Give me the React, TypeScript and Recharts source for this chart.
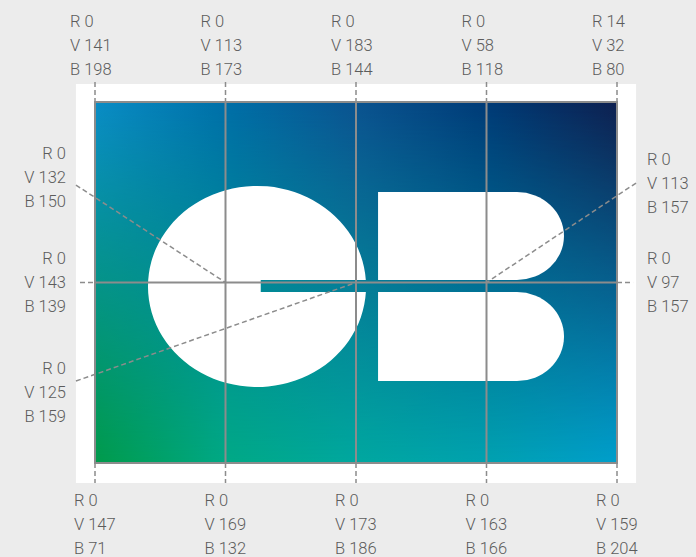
import React from 'react';
import {
  ComposedChart,
  XAxis,
  YAxis,
  Scatter,
  ReferenceArea,
  ReferenceLine,
} from 'recharts';

// grid columns (x) and rows (y) of the colour swatch panel
const columns = [0, 1, 2, 3, 4];

// top edge readings
const topR = [0, 0, 0, 0, 14];
const topV = [141, 113, 183, 58, 32];
const topB = [198, 173, 144, 118, 80];

// bottom edge readings
const bottomR = [0, 0, 0, 0, 0];
const bottomV = [147, 169, 173, 163, 159];
const bottomB = [71, 132, 186, 166, 204];

// left side readings
const leftRows = [0.42, 1, 1.607];
const leftR = [0, 0, 0];
const leftV = [132, 143, 125];
const leftB = [150, 139, 159];

// right side readings
const rightRows = [0.449, 1];
const rightR = [0, 0];
const rightV = [113, 97];
const rightB = [157, 157];

// colours along the top and bottom rows
const topColors = ['#0a8dc6', '#006fa8', '#0b5390', '#003b77', '#0e2050'];
const bottomColors = ['#009a4a', '#00a985', '#00a89f', '#00a2b0', '#009fcc'];

const GREY = '#8c8c8c';
const TEXT = '#5c5c5c';
const FONT = 'Roboto, "Liberation Sans", Arial, sans-serif';

const topData = columns.map((c, i) => ({ x: c, y: 0, r: topR[i], v: topV[i], b: topB[i] }));
const bottomData = columns.map((c, i) => ({ x: c, y: 2, r: bottomR[i], v: bottomV[i], b: bottomB[i] }));
const leftData = leftRows.map((y, i) => ({ x: 0, y, r: leftR[i], v: leftV[i], b: leftB[i] }));
const rightData = rightRows.map((y, i) => ({ x: 4, y, r: rightR[i], v: rightV[i], b: rightB[i] }));

// R / V / B stacked text, placed at the scatter point
const stack = (anchor: 'start' | 'end', dx: number, dy: number) => (props: any) => {
  const { cx, cy, payload } = props;
  const lines = [`R ${payload.r}`, `V ${payload.v}`, `B ${payload.b}`];
  return (
    <g>
      {lines.map((t, i) => (
        <text
          key={i}
          x={cx + dx}
          y={cy + dy + (i - 1) * 24}
          textAnchor={anchor}
          dominantBaseline="central"
          fontSize={16.5}
          fontWeight={300}
          fontFamily={FONT}
          fill={TEXT}
        >
          {t}
        </text>
      ))}
    </g>
  );
};

// gradient panel: top row blended into bottom row
const Panel = (props: any) => {
  const { x, y, width, height } = props;
  return (
    <g>
      <defs>
        <linearGradient id="rowTop" x1="0" y1="0" x2="1" y2="0">
          {topColors.map((c, i) => (
            <stop key={i} offset={i / (topColors.length - 1)} stopColor={c} />
          ))}
        </linearGradient>
        <linearGradient id="rowBottom" x1="0" y1="0" x2="1" y2="0">
          {bottomColors.map((c, i) => (
            <stop key={i} offset={i / (bottomColors.length - 1)} stopColor={c} />
          ))}
        </linearGradient>
        <linearGradient id="fadeDown" x1="0" y1="0" x2="0" y2="1">
          <stop offset="0" stopColor="#fff" stopOpacity={0} />
          <stop offset="1" stopColor="#fff" stopOpacity={1} />
        </linearGradient>
        <mask id="fadeMask" maskContentUnits="objectBoundingBox">
          <rect x={0} y={0} width={1} height={1} fill="url(#fadeDown)" />
        </mask>
      </defs>
      <rect x={x} y={y} width={width} height={height} fill="url(#rowTop)" />
      <rect x={x} y={y} width={width} height={height} fill="url(#rowBottom)" mask="url(#fadeMask)" />
      <rect x={x} y={y} width={width} height={height} fill="none" stroke={GREY} strokeWidth={2} />
    </g>
  );
};

// the "C": ellipse box and the slit cut into it
const C_BOX = { x1: 0.406, x2: 2.077, y1: 0.465, y2: 1.579 };
const C_SLIT = { left: 1.27, top: 0.986, bottom: 1.053 };

const LetterC = (props: any) => {
  const { x, y, width, height } = props;
  const sx = (u: number) => x + ((u - C_BOX.x1) / (C_BOX.x2 - C_BOX.x1)) * width;
  const sy = (v: number) => y + ((v - C_BOX.y1) / (C_BOX.y2 - C_BOX.y1)) * height;
  const cx = x + width / 2;
  const cy = y + height / 2;
  const rx = width / 2;
  const ry = height / 2;
  const ty = sy(C_SLIT.top);
  const by = sy(C_SLIT.bottom);
  const xr = (yy: number) => cx + rx * Math.sqrt(1 - ((yy - cy) / ry) ** 2);
  const lx = sx(C_SLIT.left);
  const d = `M${xr(ty)},${ty} A${rx},${ry} 0 1 0 ${xr(by)},${by} L${lx},${by} L${lx},${ty} Z`;
  return <path d={d} fill="#fff" />;
};

// the "B": two half-rounded blocks
const B_LEFT = 2.169;
const B_RIGHT = 3.594;
const B_ROUND = 0.36;

const BlockB = (props: any) => {
  const { x, y, width, height } = props;
  const r = (B_ROUND / (B_RIGHT - B_LEFT)) * width;
  const d = `M${x},${y} H${x + width - r} A${r},${height / 2} 0 0 1 ${x + width - r},${y + height} H${x} Z`;
  return <path d={d} fill="#fff" />;
};

const dashed = { stroke: GREY, strokeWidth: 1.5, strokeDasharray: '5 3' };

export default function App() {
  return (
    <div style={{ position: 'absolute', left: 0, top: 0, width: 696, height: 557, background: '#ececec' }}>
      <ComposedChart
        width={696}
        height={557}
        data={topData}
        margin={{ top: 102, right: 79, bottom: 94, left: 95 }}
      >
        <XAxis type="number" dataKey="x" domain={[0, 4]} hide />
        <YAxis type="number" dataKey="y" domain={[0, 2]} reversed hide />

        {/* white frame */}
        <ReferenceArea x1={-0.146} x2={4.146} y1={-0.1} y2={2.111} ifOverflow="visible" fill="#fff" fillOpacity={1} stroke="none" />

        <ReferenceArea x1={0} x2={4} y1={0} y2={2} ifOverflow="visible" shape={Panel} />

        <ReferenceArea x1={C_BOX.x1} x2={C_BOX.x2} y1={C_BOX.y1} y2={C_BOX.y2} ifOverflow="visible" shape={LetterC} />
        <ReferenceArea x1={B_LEFT} x2={B_RIGHT} y1={0.499} y2={0.986} ifOverflow="visible" shape={BlockB} />
        <ReferenceArea x1={B_LEFT} x2={B_RIGHT} y1={1.053} y2={1.546} ifOverflow="visible" shape={BlockB} />

        {/* solid grid inside the panel */}
        {[1, 2, 3].map((c) => (
          <ReferenceLine key={`v${c}`} segment={[{ x: c, y: 0 }, { x: c, y: 2 }]} ifOverflow="visible" stroke={GREY} strokeWidth={2} />
        ))}
        <ReferenceLine segment={[{ x: 0, y: 1 }, { x: 4, y: 1 }]} ifOverflow="visible" stroke={GREY} strokeWidth={2} />

        {/* dashed ticks outside the panel */}
        {columns.map((c) => (
          <ReferenceLine key={`t${c}`} segment={[{ x: c, y: -0.111 }, { x: c, y: 0 }]} ifOverflow="visible" {...dashed} />
        ))}
        {columns.map((c) => (
          <ReferenceLine key={`b${c}`} segment={[{ x: c, y: 2 }, { x: c, y: 2.111 }]} ifOverflow="visible" {...dashed} />
        ))}
        <ReferenceLine segment={[{ x: -0.115, y: 1 }, { x: 0, y: 1 }]} ifOverflow="visible" {...dashed} />
        <ReferenceLine segment={[{ x: 4, y: 1 }, { x: 4.123, y: 1 }]} ifOverflow="visible" {...dashed} />

        {/* leader lines to the sampled points */}
        <ReferenceLine segment={[{ x: -0.146, y: 0.46 }, { x: 1, y: 1 }]} ifOverflow="visible" {...dashed} />
        <ReferenceLine segment={[{ x: -0.146, y: 1.546 }, { x: 2, y: 1 }]} ifOverflow="visible" {...dashed} />
        <ReferenceLine segment={[{ x: 4.146, y: 0.449 }, { x: 3, y: 1 }]} ifOverflow="visible" {...dashed} />

        <Scatter data={topData} isAnimationActive={false} shape={stack('start', -25, -57)} />
        <Scatter data={bottomData} isAnimationActive={false} shape={stack('start', -21, 61)} />
        <Scatter data={leftData} isAnimationActive={false} shape={stack('end', -29, 0)} />
        <Scatter data={rightData} isAnimationActive={false} shape={stack('start', 30, 0)} />
      </ComposedChart>
    </div>
  );
}
